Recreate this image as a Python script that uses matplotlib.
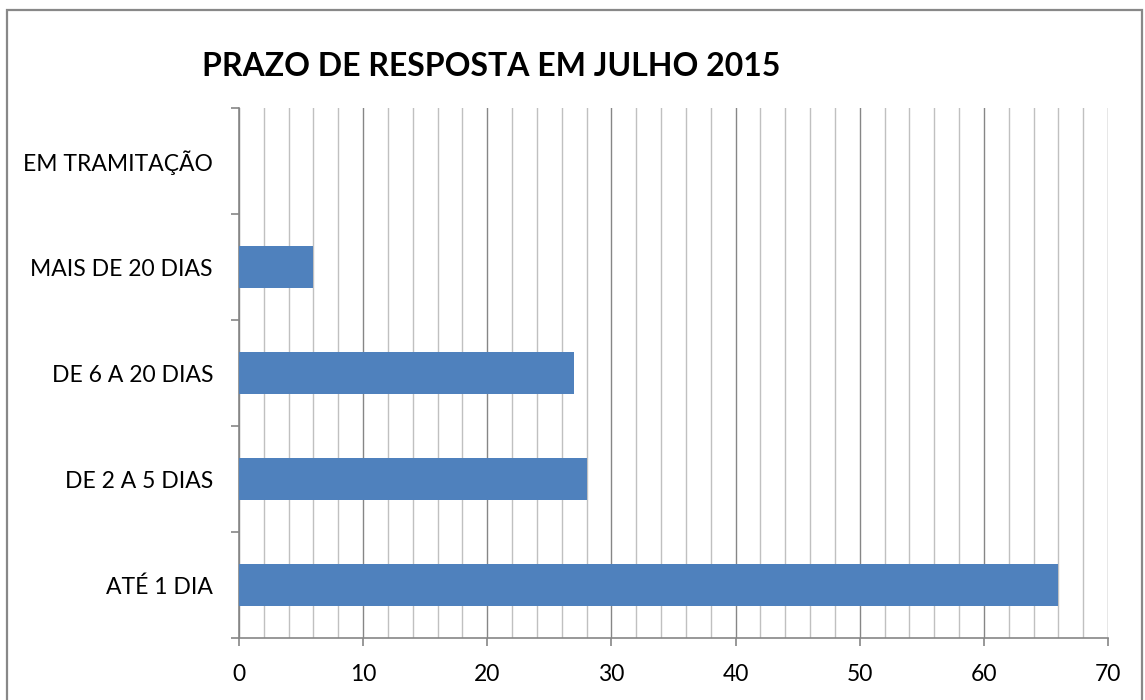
import matplotlib.pyplot as plt
from matplotlib.patches import Rectangle
from matplotlib.ticker import MultipleLocator

categories = ['ATÉ 1 DIA', 'DE 2 A 5 DIAS', 'DE 6 A 20 DIAS', 'MAIS DE 20 DIAS', 'EM TRAMITAÇÃO']
values = [66, 28, 27, 6, 0]
title = 'PRAZO DE RESPOSTA EM JULHO 2015'

plt.rcParams['font.family'] = ['Lato', 'DejaVu Sans']

W, H = 1145, 700
fig = plt.figure(figsize=(W / 100, H / 100), dpi=100)
ax = fig.add_axes([239 / W, 1 - 638 / H, (1108 - 239) / W, (638 - 108) / H])

# outer chart border
fig.patches.append(Rectangle((7 / W, -0.05), (1142 - 7) / W, 1.05 - 10 / H,
                             transform=fig.transFigure, fill=False,
                             edgecolor='#888888', linewidth=1.6))

ypos = range(len(categories))
ax.barh(ypos, values, height=0.4, color='#4f81bd', zorder=3)

ax.set_xlim(0, 70)
ax.set_ylim(-0.5, len(categories) - 0.5)
ax.xaxis.set_major_locator(MultipleLocator(10))
ax.xaxis.set_minor_locator(MultipleLocator(2))
ax.grid(which='major', axis='x', color='#868686', linewidth=1.0, zorder=1)
ax.grid(which='minor', axis='x', color='#c0c0c0', linewidth=1.0, zorder=1)

ax.set_yticks(list(ypos))
ax.set_yticklabels(categories)
ax.set_yticks([i - 0.5 for i in range(len(categories) + 1)], minor=True)
ax.tick_params(axis='y', which='major', length=0, pad=26 * 0.72, labelsize=16.5)
ax.tick_params(axis='y', which='minor', length=8 * 0.72, color='#868686', width=1.2)
ax.tick_params(axis='x', which='major', length=8 * 0.72, color='#868686', width=1.2,
               pad=13, labelsize=16.5)
ax.tick_params(axis='x', which='minor', length=0)

for s in ['top', 'right']:
    ax.spines[s].set_visible(False)
for s in ['left', 'bottom']:
    ax.spines[s].set_color('#868686')
    ax.spines[s].set_linewidth(1.2)

fig.text(491 / W, 1 - 66 / H, title, ha='center', va='center',
         fontsize=23, fontweight='bold')

fig.savefig('out.png', dpi=100)
